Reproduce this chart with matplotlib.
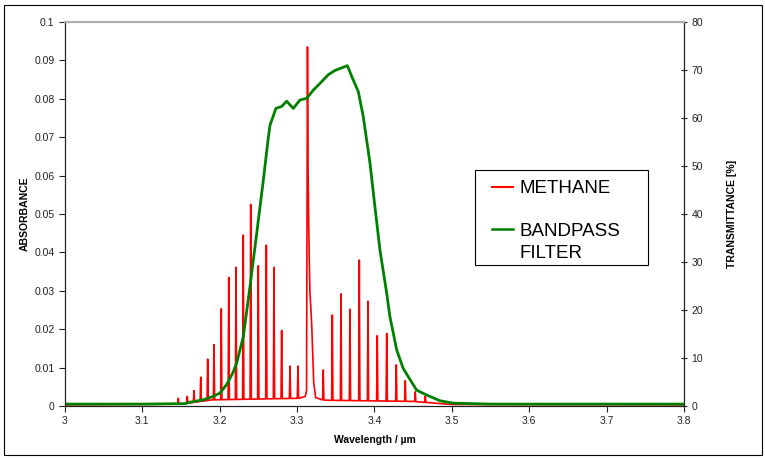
import numpy as np
import matplotlib.pyplot as plt
from matplotlib.patches import Rectangle

plt.rcParams['font.family'] = ['Liberation Sans', 'DejaVu Sans']

# methane absorption lines (wavelength in um, absorbance at line centre)
line_pos = [3.1464, 3.1580, 3.1667, 3.1754, 3.1844, 3.1926, 3.2020, 3.2116,
            3.2210, 3.2304, 3.2400, 3.2498, 3.2602, 3.2701, 3.2800, 3.2908,
            3.3011, 3.3338, 3.3455, 3.3567, 3.3683, 3.3804, 3.3916, 3.4036,
            3.4158, 3.4282, 3.4398, 3.4527, 3.4657]
line_hgt = [0.0020, 0.0025, 0.0040, 0.0075, 0.0122, 0.0160, 0.0253, 0.0335,
            0.0361, 0.0445, 0.0525, 0.0365, 0.0419, 0.0361, 0.0197, 0.0104,
            0.0104, 0.0094, 0.0237, 0.0292, 0.0252, 0.0380, 0.0273, 0.0183,
            0.0189, 0.0107, 0.0066, 0.0037, 0.0026]

# Q-branch (tall central feature)
q_x = [3.3105, 3.3122, 3.3134, 3.3142, 3.3150, 3.3165, 3.3188, 3.3215, 3.3240]
q_y = [0.0025, 0.0040, 0.0935, 0.0615, 0.0470, 0.0300, 0.0216, 0.0060, 0.0022]

# background level of the absorbance trace
base_x = [3.00, 3.15, 3.19, 3.30, 3.34, 3.45, 3.50, 3.80]
base_y = [0.0003, 0.0005, 0.0016, 0.0020, 0.0015, 0.0012, 0.0004, 0.0003]

# bandpass filter transmittance (%)
filt_x = [3.000, 3.100, 3.155, 3.1616, 3.1788, 3.1896, 3.2003, 3.209, 3.2175,
          3.2219, 3.2304, 3.2391, 3.2478, 3.2563, 3.2627, 3.2650, 3.2726,
          3.2800, 3.2865, 3.2951, 3.3037, 3.3124, 3.3209, 3.3295, 3.3402,
          3.3489, 3.3650, 3.3726, 3.3791, 3.3855, 3.3942, 3.4006, 3.4071,
          3.4158, 3.4200, 3.4287, 3.4372, 3.4545, 3.4674, 3.4846, 3.5015,
          3.550, 3.800]
filt_t = [0.4, 0.4, 0.5, 0.8, 1.3, 1.9, 2.7, 4.5, 7.1,
          9.0, 14.4, 24.9, 36.0, 47.0, 55.8, 58.5, 62.0,
          62.4, 63.5, 62.0, 63.75, 64.1, 65.8, 67.2, 69.0,
          69.9, 70.9, 67.9, 65.5, 60.3, 50.6, 41.5, 32.5,
          23.5, 18.6, 11.7, 7.8, 3.3, 2.3, 1.1, 0.6,
          0.4, 0.4]

# build stick spectrum on top of baseline
w = 0.0008
xs, ys = list(base_x), list(base_y)
for c, h in zip(line_pos, line_hgt):
    xs += [c - w, c, c + w]
    ys += [np.interp(c - w, base_x, base_y), h, np.interp(c + w, base_x, base_y)]
xs += q_x
ys += q_y
order = np.argsort(xs)
sx = np.array(xs)[order]
sy = np.array(ys)[order]

fig = plt.figure(figsize=(7.65, 4.58), dpi=100)
ax = fig.add_axes([0.085, 0.1135, 0.809, 0.8385])
ax2 = ax.twinx()

ax.plot(sx, sy, color='#ff0000', lw=1.2)
ax2.plot(filt_x, filt_t, color='#008000', lw=2.0)

ax.set_xlim(3.0, 3.8)
ax.set_ylim(0, 0.1)
ax2.set_ylim(0, 80)
ax.set_xticks(np.arange(3.0, 3.81, 0.1))
ax.set_xticklabels(['3', '3.1', '3.2', '3.3', '3.4', '3.5', '3.6', '3.7', '3.8'])
ax.set_yticks(np.arange(0, 0.101, 0.01))
ax.set_yticklabels(['0', '0.01', '0.02', '0.03', '0.04', '0.05', '0.06',
                    '0.07', '0.08', '0.09', '0.1'])
ax2.set_yticks(np.arange(0, 81, 10))

ax.tick_params(labelsize=7.5, length=4, width=0.8, direction='out', colors='#222222')
ax2.tick_params(labelsize=7.5, length=4, width=0.8, direction='inout', colors='#222222')

ax.set_xlabel('Wavelength / µm', fontsize=7.5, fontweight='bold', labelpad=6)
ax.set_ylabel('ABSORBANCE', fontsize=7.5, fontweight='bold', labelpad=3)
ax2.set_ylabel('TRANSMITTANCE [%]', fontsize=7.5, fontweight='bold', labelpad=17)

for a in (ax, ax2):
    a.spines['top'].set_color('#b0b0b0')
    a.spines['top'].set_linewidth(1.5)
    a.spines['left'].set_color('#222222')
    a.spines['right'].set_color('#222222')
    a.spines['bottom'].set_color('#222222')

# legend box, drawn by hand so the handle sits on the first text line
tr = ax2.transAxes
ax2.add_patch(Rectangle((0.6624, 0.3672), 0.2795, 0.2474, transform=tr,
                        facecolor='white', edgecolor='black', lw=0.8, zorder=4))
ax2.plot([0.6898, 0.7237], [0.5711, 0.5711], color='#ff0000', lw=1.5,
         transform=tr, zorder=5)
ax2.plot([0.6898, 0.7237], [0.4609, 0.4609], color='#008000', lw=1.8,
         transform=tr, zorder=5)
for txt, yb in [('METHANE', 0.5539), ('BANDPASS', 0.4427), ('FILTER', 0.3846)]:
    ax2.text(0.7351, yb, txt, transform=tr, fontsize=13.5, va='baseline',
             ha='left', zorder=5)

fig.patches.append(Rectangle((4 / 765, 3 / 458), 758 / 765, 450 / 458,
                             transform=fig.transFigure, fill=False,
                             edgecolor='black', lw=0.8))

fig.savefig('out.png', dpi=100)
